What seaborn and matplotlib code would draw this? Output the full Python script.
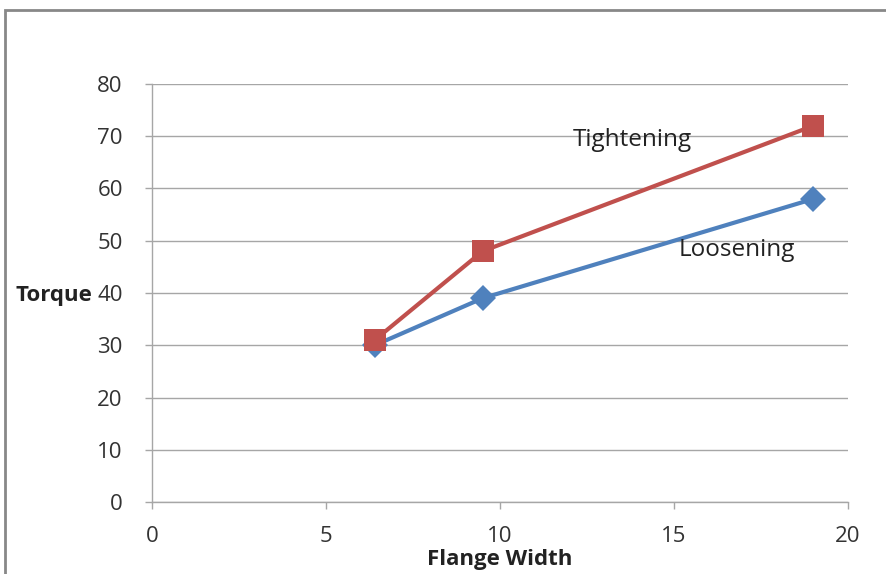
import matplotlib
matplotlib.use("Agg")
import matplotlib.pyplot as plt
from matplotlib.patches import Rectangle
import pandas as pd
import seaborn as sns

# data
flange_width = [6.4, 9.5, 19.0]
loosening = [30, 39, 58]
tightening = [31, 48, 72]

df = pd.DataFrame({
    "Flange Width": flange_width * 2,
    "Torque": loosening + tightening,
    "Series": ["Loosening"] * 3 + ["Tightening"] * 3,
})

sns.set_theme(style="white")
plt.rcParams["font.family"] = ["Open Sans", "DejaVu Sans"]

fig = plt.figure(figsize=(8.86, 5.74), dpi=100)
ax = fig.add_axes([0.1716, 0.1254, 0.7856, 0.7283])

sns.lineplot(data=df, x="Flange Width", y="Torque", hue="Series", style="Series",
             palette={"Loosening": "#4F81BD", "Tightening": "#C0504D"},
             markers={"Loosening": "D", "Tightening": "s"},
             dashes=False, linewidth=3, markersize=13, markeredgewidth=0,
             estimator=None, legend=False, ax=ax)
# make the red squares a bit bigger
ax.lines[1].set_markersize(16)

ax.set_xlim(0, 20)
ax.set_ylim(0, 80)
ax.set_xticks([0, 5, 10, 15, 20])
ax.set_yticks(range(0, 81, 10))
ax.yaxis.grid(True, color="#A6A6A6", linewidth=1)
ax.set_axisbelow(True)
for s in ["top", "right"]:
    ax.spines[s].set_visible(False)
for s in ["left", "bottom"]:
    ax.spines[s].set_color("#A6A6A6")
    ax.spines[s].set_linewidth(1)
ax.tick_params(axis="both", which="major", labelsize=16, colors="#A6A6A6",
               labelcolor="#333333", length=5, width=1, direction="out",
               bottom=True, left=True)
ax.tick_params(axis="x", pad=12)
ax.tick_params(axis="y", pad=16)
ax.set_xlabel("")
ax.set_ylabel("")

ax.text(13.8, 69.3, "Tightening", fontsize=17.5, color="#222222",
        ha="center", va="center")
ax.text(16.8, 48.2, "Loosening", fontsize=17.5, color="#222222",
        ha="center", va="center")

fig.text(15 / 886, 1 - 296 / 574, "Torque", fontsize=16, fontweight="bold",
         ha="left", va="center", color="#222222")
fig.text(500 / 886, 1 - 559 / 574, "Flange Width", fontsize=16, fontweight="bold",
         ha="center", va="center", color="#222222")

fig.patches.append(Rectangle((5 / 886, -0.05), 1.0, 1 - 10 / 574 + 0.05,
                             transform=fig.transFigure, fill=False,
                             edgecolor="#888888", linewidth=2))

fig.savefig("out.png", dpi=100)
